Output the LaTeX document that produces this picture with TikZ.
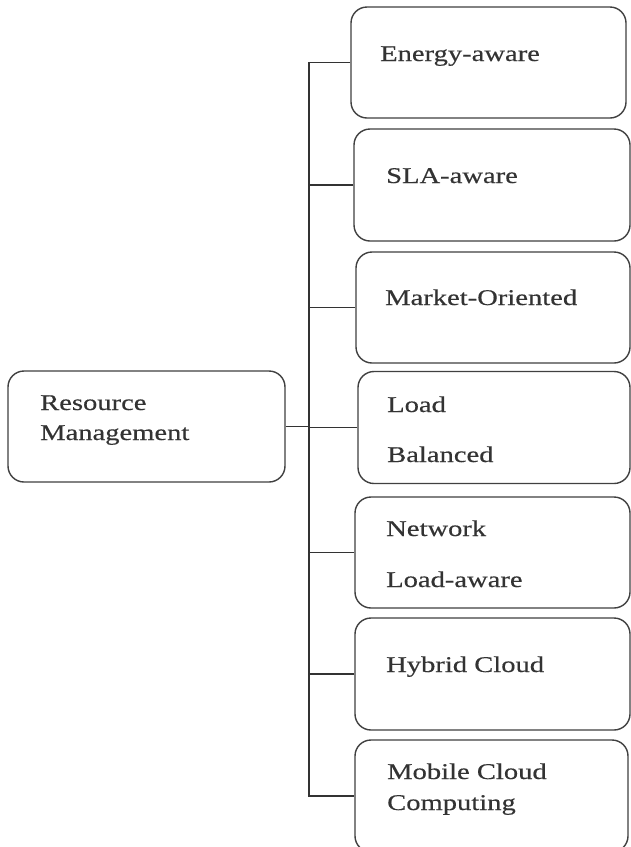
\documentclass[tikz,border=0pt]{standalone}
\usepackage{fontspec}
\newfontfamily\tnr[FakeStretch=1.27,FakeBold=0.4]{Liberation Serif}
\begin{document}
\begin{tikzpicture}[x=1pt,y=-1pt,
  box/.style={draw=black!75, line width=1.4pt, rounded corners=16pt, inner sep=0pt},
  lbl/.style={anchor=base west, inner sep=0pt, text=black!80, font=\tnr\fontsize{22.5}{27}\selectfont},
  conn/.style={draw=black!80, line width=1.4pt}]
\useasboundingbox[fill=white] (0,0) rectangle (631,847);
% boxes
\node[box, minimum width=277pt, minimum height=111pt] (r)  at (146.5,426.5) {};
\node[box, minimum width=275pt, minimum height=111pt] (b1) at (488.5,62.5) {};
\node[box, minimum width=276pt, minimum height=112pt] (b2) at (492,185) {};
\node[box, minimum width=274pt, minimum height=111pt] (b3) at (493,307.5) {};
\node[box, minimum width=272pt, minimum height=112pt] (b4) at (494,427.5) {};
\node[box, minimum width=275pt, minimum height=111pt] (b5) at (492.5,552.5) {};
\node[box, minimum width=275pt, minimum height=112pt] (b6) at (492.5,674) {};
\node[box, minimum width=273pt, minimum height=112pt] (b7) at (491.5,796) {};
% texts
\node[lbl] (r1) at (40,410) {Resource};
\node[lbl] (r2) at (40,440) {Management};
\node[lbl] (t1) at (380,61) {Energy-aware};
\node[lbl] (t2) at (386,183) {SLA-aware};
\node[lbl] (t3) at (385,305) {Market-Oriented};
\node[lbl] (t4a) at (387,412) {Load};
\node[lbl] (t4b) at (387,462) {Balanced};
\node[lbl] (t5a) at (386,536) {Network};
\node[lbl] (t5b) at (386,587) {Load-aware};
\node[lbl] (t6) at (386,672) {Hybrid Cloud};
\node[lbl] (t7a) at (387,779) {Mobile Cloud};
\node[lbl] (t7b) at (387,810) {Computing};
% connectors
\coordinate (t) at (309,0);
\draw[conn] (b1.west) -- (b1.west -| t) -- (b7.west -| t) -- (b7.west);
\foreach \b in {b2,b3,b4,b5,b6} \draw[conn] (\b.west) -- (\b.west -| t);
\draw[conn] (r.east) -- (r.east -| t);
\end{tikzpicture}
\end{document}
